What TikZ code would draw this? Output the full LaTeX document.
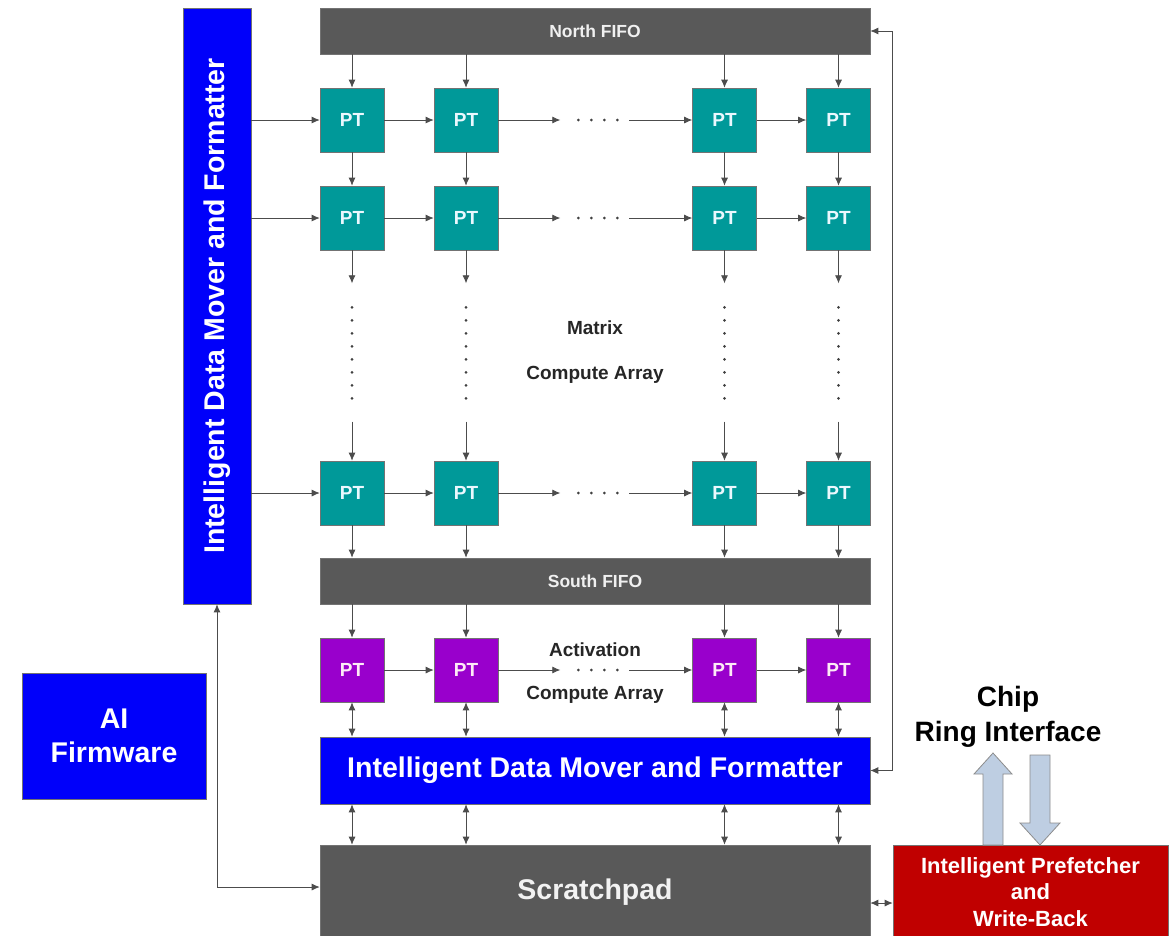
\documentclass[tikz,border=0pt]{standalone}
\usepackage{fontspec}
\setmainfont{Liberation Sans}
\usetikzlibrary{arrows.meta,calc}
\definecolor{idblue}{RGB}{0,0,250}
\definecolor{fifogray}{RGB}{89,89,89}
\definecolor{ptteal}{RGB}{0,153,153}
\definecolor{ptpurple}{RGB}{153,0,204}
\definecolor{pfred}{RGB}{192,0,0}
\definecolor{barrow}{RGB}{190,206,226}
\begin{document}
\begin{tikzpicture}[x=1pt,y=-1pt,
  >={Latex[length=8pt,width=7pt]},
  blk/.style={draw=black!55,line width=0.6pt,inner sep=0pt,align=center},
  pt/.style={blk,fill=ptteal,minimum width=64pt,minimum height=64pt,
     text=white!92!cyan,font=\fontsize{19pt}{22pt}\selectfont\bfseries},
  ptp/.style={pt,fill=ptpurple,text=white!92!magenta},
  fifo/.style={blk,fill=fifogray,minimum width=550pt,minimum height=46pt,
     text=white!88!gray,font=\fontsize{17.5pt}{20pt}\selectfont\bfseries},
  mover/.style={blk,fill=idblue,text=white,font=\fontsize{28.5pt}{34pt}\selectfont\bfseries},
  lbl/.style={font=\fontsize{19pt}{22pt}\selectfont\bfseries,text=black!85,inner sep=0pt},
  conn/.style={draw=black!70,line width=0.8pt,->},
  bi/.style={draw=black!70,line width=0.8pt,<->},
  dotc/.style={fill=black!75},
  barr/.style={draw=black!45,line width=0.8pt,fill=barrow}
]
\useasboundingbox (0,0) rectangle (1173,935);

% main blocks
\node[fifo] (NF) at (595,31) {North FIFO};
\node[fifo] (SF) at (595,581) {South FIFO};
\node[mover,minimum width=68pt,minimum height=596pt] (L) at (217,306) {};
\node[mover,draw=none,fill=none,rotate=90] (Ltext) at (L.center) {Intelligent Data Mover and Formatter};
\node[mover,minimum width=550pt,minimum height=67pt] (BI) at (595,770.5) {Intelligent Data Mover and Formatter};
\node[blk,fill=fifogray,minimum width=550pt,minimum height=94pt,text=white!90!gray,
      font=\fontsize{28.5pt}{34pt}\selectfont\bfseries] (SP) at (595,892) {Scratchpad};
\node[blk,fill=pfred,minimum width=275pt,minimum height=94pt,text=white,
      font=\fontsize{22pt}{26.5pt}\selectfont\bfseries] (RB) at (1030.5,892) {Intelligent Prefetcher\\and\\Write-Back};
\node[mover,minimum width=184pt,minimum height=126pt] (AI) at (114,736) {AI\\Firmware};

% PT tiles
\foreach \c/\x in {1/352,2/466,3/724.5,4/838.5} {
  \node[pt] (m1-\c) at (\x,120) {PT};
  \node[pt] (m2-\c) at (\x,218) {PT};
  \node[pt] (m3-\c) at (\x,493) {PT};
  \node[ptp] (a-\c) at (\x,670) {PT};
}

% labels
\node[lbl] (mx) at (595,328) {Matrix};
\node[lbl] (ca) at (595,375) {Compute Array};
\node[lbl] (ac) at (595,650) {Activation};
\node[lbl] (ca2) at (595,695) {Compute Array};
\node[font=\fontsize{28pt}{35pt}\selectfont\bfseries,align=center,inner sep=0pt] (CR) at (1008,717) {Chip\\Ring Interface};

% vertical connections
\foreach \c in {1,...,4} {
  \draw[conn] (m1-\c |- NF.south) -- (m1-\c.north);
  \draw[conn] (m1-\c.south) -- (m2-\c.north);
  \draw[conn] (m2-\c.south) -- ++(0,33);
  \foreach \k in {0,...,7}
    \fill[dotc] ($(m2-\c.south)+(0,{57+13*\k})$) circle[radius=1.5pt];
  \coordinate (vs-\c) at ($(m3-\c.north)+(0,-39)$);
  \draw[conn] (vs-\c) -- (m3-\c.north);
  \draw[conn] (m3-\c.south) -- (m3-\c |- SF.north);
  \draw[conn] (a-\c |- SF.south) -- (a-\c.north);
  \draw[bi] (a-\c.south) -- (a-\c |- BI.north);
  \draw[bi] (a-\c |- BI.south) -- (a-\c |- SP.north);
}

% horizontal connections
\foreach \r in {m1,m2,m3} {
  \draw[conn] (\r-1 -| L.east) -- (\r-1.west);
}
\foreach \r in {m1,m2,m3,a} {
  \draw[conn] (\r-1.east) -- (\r-2.west);
  \draw[conn] (\r-2.east) -- ++(62,0);
  \foreach \k in {0,...,3}
    \fill[dotc] ($(\r-2.east)+({80+13*\k},0)$) circle[radius=1.5pt];
  \coordinate (hs-\r) at ($(\r-3.west)+(-63,0)$);
  \draw[conn] (hs-\r) -- (\r-3.west);
  \draw[conn] (\r-3.east) -- (\r-4.west);
}

% side loops
\draw[bi] (NF.east) -- ++(22,0) |- (BI.east);
\draw[bi] (L.south) |- ([yshift=5pt]SP.west);
\draw[bi] ([yshift=-11pt]SP.east) -- ([yshift=-11pt]RB.west);

% chip ring block arrows
\draw[barr] (983,845) -- (983,774) -- (974,774) -- (993,753) -- (1012,774) -- (1003,774) -- (1003,845) -- cycle;
\draw[barr] (1030,755) -- (1050,755) -- (1050,823) -- (1060,823) -- (1040,845) -- (1020,823) -- (1030,823) -- cycle;
\end{tikzpicture}
\end{document}
